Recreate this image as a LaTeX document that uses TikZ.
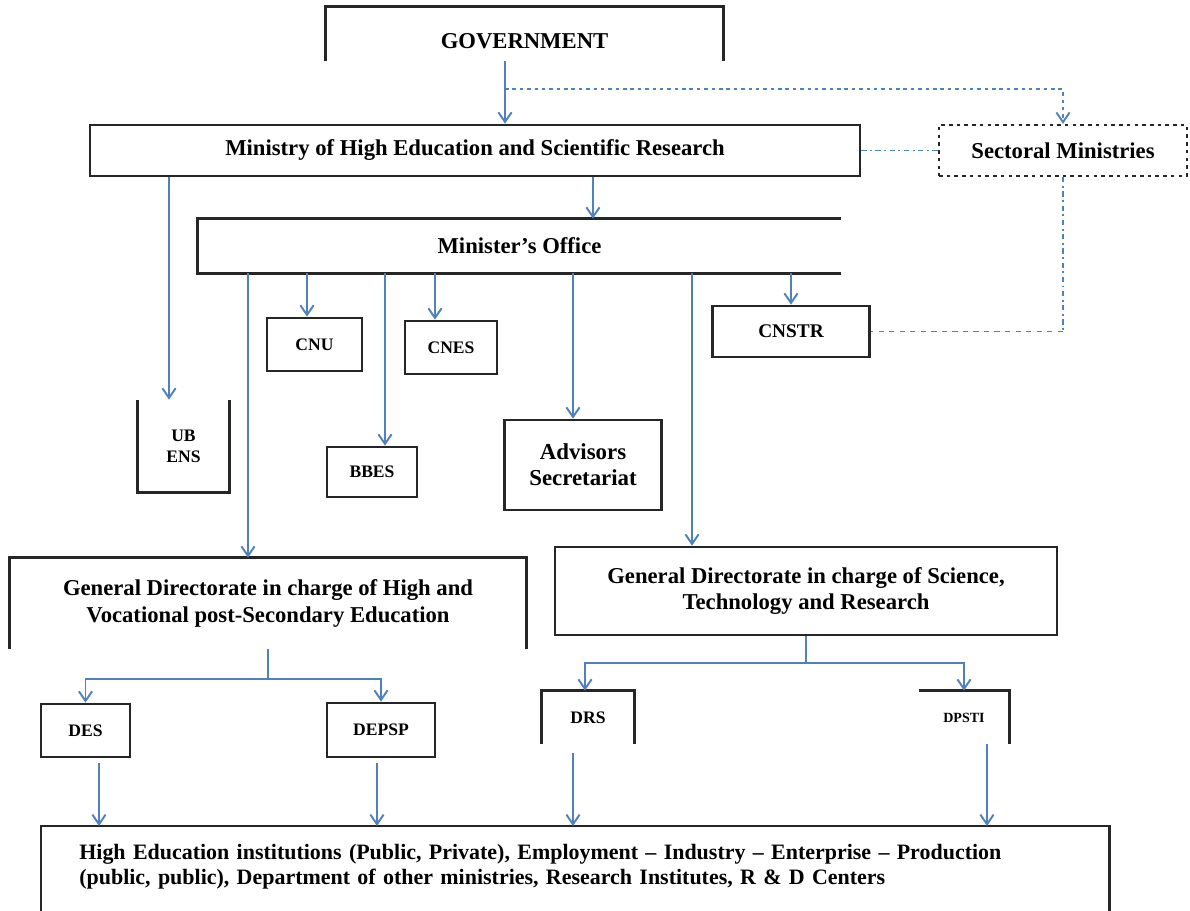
\documentclass[tikz,border=0pt]{standalone}
\usepackage{fontspec}
\setmainfont{Liberation Serif}
\usetikzlibrary{positioning, arrows.meta}
\definecolor{linkblue}{RGB}{79,129,189}
\tikzset{
	box/.style={draw=black!85, line width=1.5pt, align=center, inner sep=2pt, font=\bfseries\fontsize{12.9}{15.2}\selectfont},
	small box/.style={box, font=\bfseries\fontsize{10}{12}\selectfont},
	tiny box/.style={box, font=\bfseries\fontsize{8}{10}\selectfont},
	dotted box/.style={box, line width=1.3pt, dash pattern=on 2pt off 2.4pt},
	rim/.style={draw=black!85, line width=1.5pt},
	line/.style={draw=linkblue, line width=1.1pt},
	link/.style={line, -{Straight Barb[length=5.5pt,width=7.5pt]}},
	dotted link/.style={link, dash pattern=on 2pt off 2.2pt},
}
\begin{document}
\begin{tikzpicture}[x=0.02cm, y=-0.02cm]
	\useasboundingbox (0,0) rectangle (1190,911);
	\coordinate (bottom edge) at (0,911);
	% top level
	\path (524.5,34) node[box, draw=none, text height=0.58cm, text depth=0cm, minimum width=7.9cm, minimum height=1.04cm] (gov) {GOVERNMENT};
	\path (475,150.5) node[box, minimum width=15.4cm, minimum height=1.02cm] (mhesr) {Ministry of High Education and Scientific Research};
	\path (1063,150.5) node[dotted box, minimum width=4.96cm, minimum height=1.02cm] (sect) {Sectoral Ministries};
	\path (519.5,246) node[box, draw=none, minimum width=12.82cm, minimum height=1.04cm] (mino) {Minister’s Office};
	% bodies under the office
	\path (314.5,344.5) node[small box, minimum width=1.9cm, minimum height=1.06cm] (cnu) {CNU};
	\path (451,347.5) node[small box, minimum width=1.84cm, minimum height=1.06cm] (cnes) {CNES};
	\path (791,331.5) node[box, font=\bfseries\fontsize{11}{13}\selectfont, minimum width=3.14cm, minimum height=1.02cm] (cnstr) {CNSTR};
	\path (183.5,446) node[small box, draw=none, minimum width=1.78cm, minimum height=1.8cm] (ubens) {UB\\ENS};
	\path (372,472) node[small box, minimum width=1.8cm, minimum height=1cm] (bbes) {BBES};
	\path (583,465) node[box, font=\bfseries\fontsize{13}{15}\selectfont, minimum width=3.14cm, minimum height=1.8cm] (adv) {Advisors\\Secretariat};
	% directorates
	\path (268,603.5) node[box, draw=none, minimum width=10.3cm, minimum height=1.78cm] (gdh) {General Directorate in charge of High and\\Vocational post-Secondary Education};
	\path (806,591) node[box, minimum width=10.04cm, minimum height=1.76cm] (gds) {General Directorate in charge of Science,\\Technology and Research};
	\path (85.5,730.5) node[small box, minimum width=1.78cm, minimum height=1.06cm] (des) {DES};
	\path (381,730) node[small box, minimum width=2.16cm, minimum height=1.08cm] (depsp) {DEPSP};
	\path (588,717.5) node[small box, draw=none, minimum width=1.8cm, minimum height=1.02cm] (drs) {DRS};
	\path (964,717.5) node[tiny box, draw=none, minimum width=1.76cm, minimum height=1.02cm] (dpsti) {DPSTI};
	\path (41,826) node[box, draw=none, anchor=north west, align=left, font=\bfseries\fontsize{12.5}{14.4}\selectfont, text width=19.84cm, inner xsep=0.74cm, inner ysep=0.34cm] (inst) {High Education institutions (Public, Private), Employment – Industry – Enterprise – Production\\(public, public), Department of other ministries, Research Institutes, R \& D Centers};
	% open borders
	\draw[rim] (gov.south west) -- (gov.north west) -- (gov.north east) -- (gov.south east);
	\draw[rim] (mino.north east) -- (mino.north west) -- (mino.south west) -- (mino.south east);
	\draw[rim] (ubens.north west) -- (ubens.south west) -- (ubens.south east) -- (ubens.north east);
	\draw[rim] (gdh.south west) -- (gdh.north west) -- (gdh.north east) -- (gdh.south east);
	\draw[rim] (drs.south west) -- (drs.north west) -- (drs.north east) -- (drs.south east);
	\draw[rim] (dpsti.north west) -- (dpsti.north east) -- (dpsti.south east);
	\draw[rim] (inst.west |- bottom edge) -- (inst.north west) -- (inst.north east) -- (inst.east |- bottom edge);
	% government and ministries
	\draw[link] ([xshift=-0.39cm]gov.south) -- ([xshift=-0.39cm]gov.south |- mhesr.north);
	\path ([xshift=-0.39cm]gov.south) ++(0,28) coordinate (gov split);
	\draw[dotted link] (gov split) -| (sect.north);
	\draw[line, dash dot] (mhesr.east) -- (sect.west);
	\draw[line, dash dot] (sect.south) -- (sect.south |- cnstr.east) coordinate (cnstr bend);
	\draw[line, dashed] (cnstr bend) -- (cnstr.east);
	\draw[link] ([xshift=2.36cm]mhesr.south) -- ([xshift=2.36cm]mhesr.south |- mino.north);
	\draw[link] ([xshift=-0.29cm]ubens.north |- mhesr.south) -- ([xshift=-0.29cm]ubens.north);
	% from the office
	\draw[link] ([xshift=-0.15cm]cnu.north |- mino.south) -- ([xshift=-0.15cm]cnu.north);
	\draw[link] ([xshift=-0.32cm]cnes.north |- mino.south) -- ([xshift=-0.32cm]cnes.north);
	\draw[link] ([xshift=0.26cm]bbes.north |- mino.south) -- ([xshift=0.26cm]bbes.north);
	\draw[link] ([xshift=-0.2cm]adv.north |- mino.south) -- ([xshift=-0.2cm]adv.north);
	\draw[link] (cnstr.north |- mino.south) -- (cnstr.north);
	\draw[link] ([xshift=-0.4cm]gdh.north |- mino.south) -- ([xshift=-0.4cm]gdh.north);
	\draw[link] ([xshift=-2.28cm]gds.north |- mino.south) -- ([xshift=-2.28cm]gds.north);
	% directorates to departments
	\path (gdh.south) ++(0,30) coordinate (gdh fork);
	\draw[link] (gdh.south) -- (gdh fork) -| (des.north);
	\draw[link] (gdh fork) -| (depsp.north);
	\path (gds.south) ++(0,27) coordinate (gds fork);
	\draw[link] (gds.south) -- (gds fork) -| ([xshift=-0.06cm]drs.north);
	\draw[link] (gds fork) -| (dpsti.north);
	% departments to institutions
	\draw[link] ([xshift=0.27cm,yshift=-0.1cm]des.south) -- ([xshift=0.27cm]des.south |- inst.north);
	\draw[link] ([xshift=-0.08cm,yshift=-0.1cm]depsp.south) -- ([xshift=-0.08cm]depsp.south |- inst.north);
	\draw[link] ([xshift=-0.3cm,yshift=-0.18cm]drs.south) -- ([xshift=-0.3cm]drs.south |- inst.north);
	\draw[link] ([xshift=0.46cm]dpsti.south) -- ([xshift=0.46cm]dpsti.south |- inst.north);
\end{tikzpicture}
\end{document}
